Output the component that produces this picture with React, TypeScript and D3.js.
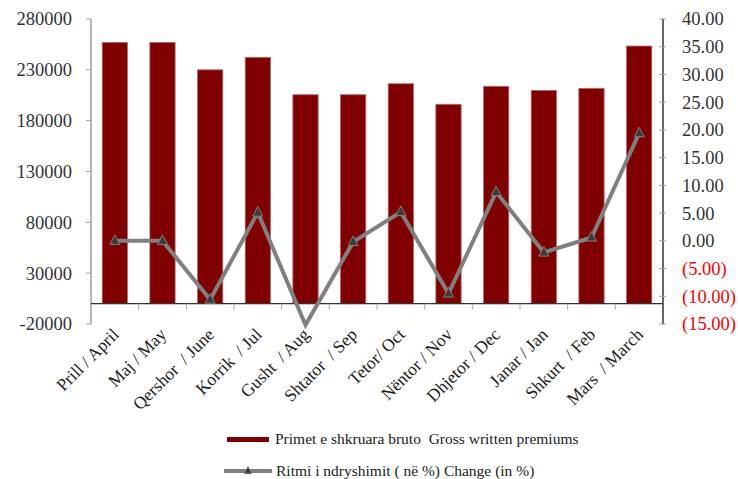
import React from "react";
import * as d3 from "d3";

const categories = [
  "Prill / April",
  "Maj / May",
  "Qershor  / June",
  "Korrik  / Jul",
  "Gusht  / Aug",
  "Shtator  / Sep",
  "Tetor/ Oct",
  "Nëntor / Nov",
  "Dhjetor / Dec",
  "Janar / Jan",
  "Shkurt  / Feb",
  "Mars  / March",
];
const premiums = [257000, 257000, 230000, 242300, 205500, 205500, 216300, 196100, 213800, 209800, 211800, 253400];
const changes = [0, 0, -10.6, 5.1, -15.2, -0.2, 5.2, -9.5, 8.8, -2.1, 0.6, 19.4];
const leftTicks = [-20000, 30000, 80000, 130000, 180000, 230000, 280000];
const rightTicks = [-15, -10, -5, 0, 5, 10, 15, 20, 25, 30, 35, 40];
const legendLabels = ["Primet e shkruara bruto  Gross written premiums", "Ritmi i ndryshimit ( në %) Change (in %)"];

const W = 738;
const H = 479;
const L = 91;
const R = 663;
const T = 19;
const B = 324;
const FONT = "Liberation Serif, Times New Roman, serif";

export default function App() {
  const x = d3.scaleBand<string>().domain(categories).range([L, R]).padding(0);
  const yL = d3.scaleLinear().domain([-20000, 280000]).range([B, T]);
  const yR = d3.scaleLinear().domain([-15, 40]).range([B, T]);
  const bw = x.bandwidth() * 0.53;
  const cx = (c: string) => (x(c) as number) + x.bandwidth() / 2;

  const line = d3
    .line<number>()
    .x((_, i) => cx(categories[i]))
    .y((d) => yR(d));

  const fmtR = (v: number) => (v < 0 ? `(${Math.abs(v).toFixed(2)})` : v.toFixed(2));
  const tri = (px: number, py: number, s: number) =>
    `M${px},${py - s * 0.75}L${px + s * 0.62},${py + s * 0.45}L${px - s * 0.62},${py + s * 0.45}Z`;

  return (
    <svg
      width={W}
      height={H}
      style={{ position: "absolute", left: 0, top: 0, background: "#fff" }}
      fontFamily={FONT}
    >
      {/* bars */}
      {categories.map((c, i) => (
        <rect
          key={c}
          x={cx(c) - bw / 2}
          y={yL(Math.max(0, premiums[i]))}
          width={bw}
          height={Math.abs(yL(premiums[i]) - yL(0))}
          fill="#800000"
          stroke="#b36b6b"
          strokeWidth={0.8}
        />
      ))}

      {/* left axis */}
      <line x1={L} x2={L} y1={T} y2={B} stroke="#6e6e6e" strokeWidth={1} />
      {leftTicks.map((t) => (
        <g key={t}>
          <line x1={L - 5} x2={L} y1={yL(t)} y2={yL(t)} stroke="#a0a0a0" />
          <text x={72} y={yL(t)} dy="0.35em" textAnchor="end" fontSize={18.5} fill="#333" fontFamily={FONT}>
            {t}
          </text>
        </g>
      ))}

      {/* right axis */}
      <line x1={R} x2={R} y1={T} y2={B} stroke="#000" strokeWidth={1.2} />
      {rightTicks.map((t) => (
        <g key={t}>
          <line x1={R - 4} x2={R + 3} y1={yR(t)} y2={yR(t)} stroke="#a0a0a0" />
          <text
            x={682}
            y={yR(t)}
            dy="0.35em"
            textAnchor="start"
            fontSize={18.5}
            fill={t < 0 ? "#ff0000" : "#333"}
            fontFamily={FONT}
          >
            {fmtR(t)}
          </text>
        </g>
      ))}

      {/* x axis at zero */}
      <line x1={L} x2={R} y1={yL(0)} y2={yL(0)} stroke="#333" strokeWidth={1.2} />
      {categories.slice(1).map((c) => (
        <line key={c} x1={x(c) as number} x2={x(c) as number} y1={yL(0)} y2={yL(0) + 6} stroke="#a8a8a8" />
      ))}

      {/* category labels */}
      {categories.map((c) => (
        <text
          key={c}
          transform={`translate(${cx(c) + 5},${yL(0) + 32}) rotate(-45)`}
          textAnchor="end"
          fontSize={17.5}
          fill="#222"
          fontFamily={FONT}
          style={{ whiteSpace: "pre" }}
        >
          {c}
        </text>
      ))}

      {/* change line */}
      <path d={line(changes) || ""} fill="none" stroke="#808080" strokeWidth={4} strokeLinejoin="miter" />
      {changes.map((v, i) =>
        v >= -15 ? (
          <path key={i} d={tri(cx(categories[i]), yR(v), 8)} fill="#3a3a3a" stroke="#808080" strokeWidth={1} />
        ) : null
      )}

      {/* legend */}
      <rect x={227} y={437} width={42} height={5} fill="#800000" />
      <text x={275} y={444} fontSize={15.5} fill="#222" fontFamily={FONT} style={{ whiteSpace: "pre" }}>
        {legendLabels[0]}
      </text>
      <line x1={224} x2={272} y1={471} y2={471} stroke="#808080" strokeWidth={4} />
      <path d={tri(248, 471, 6)} fill="#3a3a3a" stroke="#808080" strokeWidth={0.8} />
      <text x={276} y={476} fontSize={15.5} fill="#222" fontFamily={FONT} style={{ whiteSpace: "pre" }}>
        {legendLabels[1]}
      </text>
    </svg>
  );
}
